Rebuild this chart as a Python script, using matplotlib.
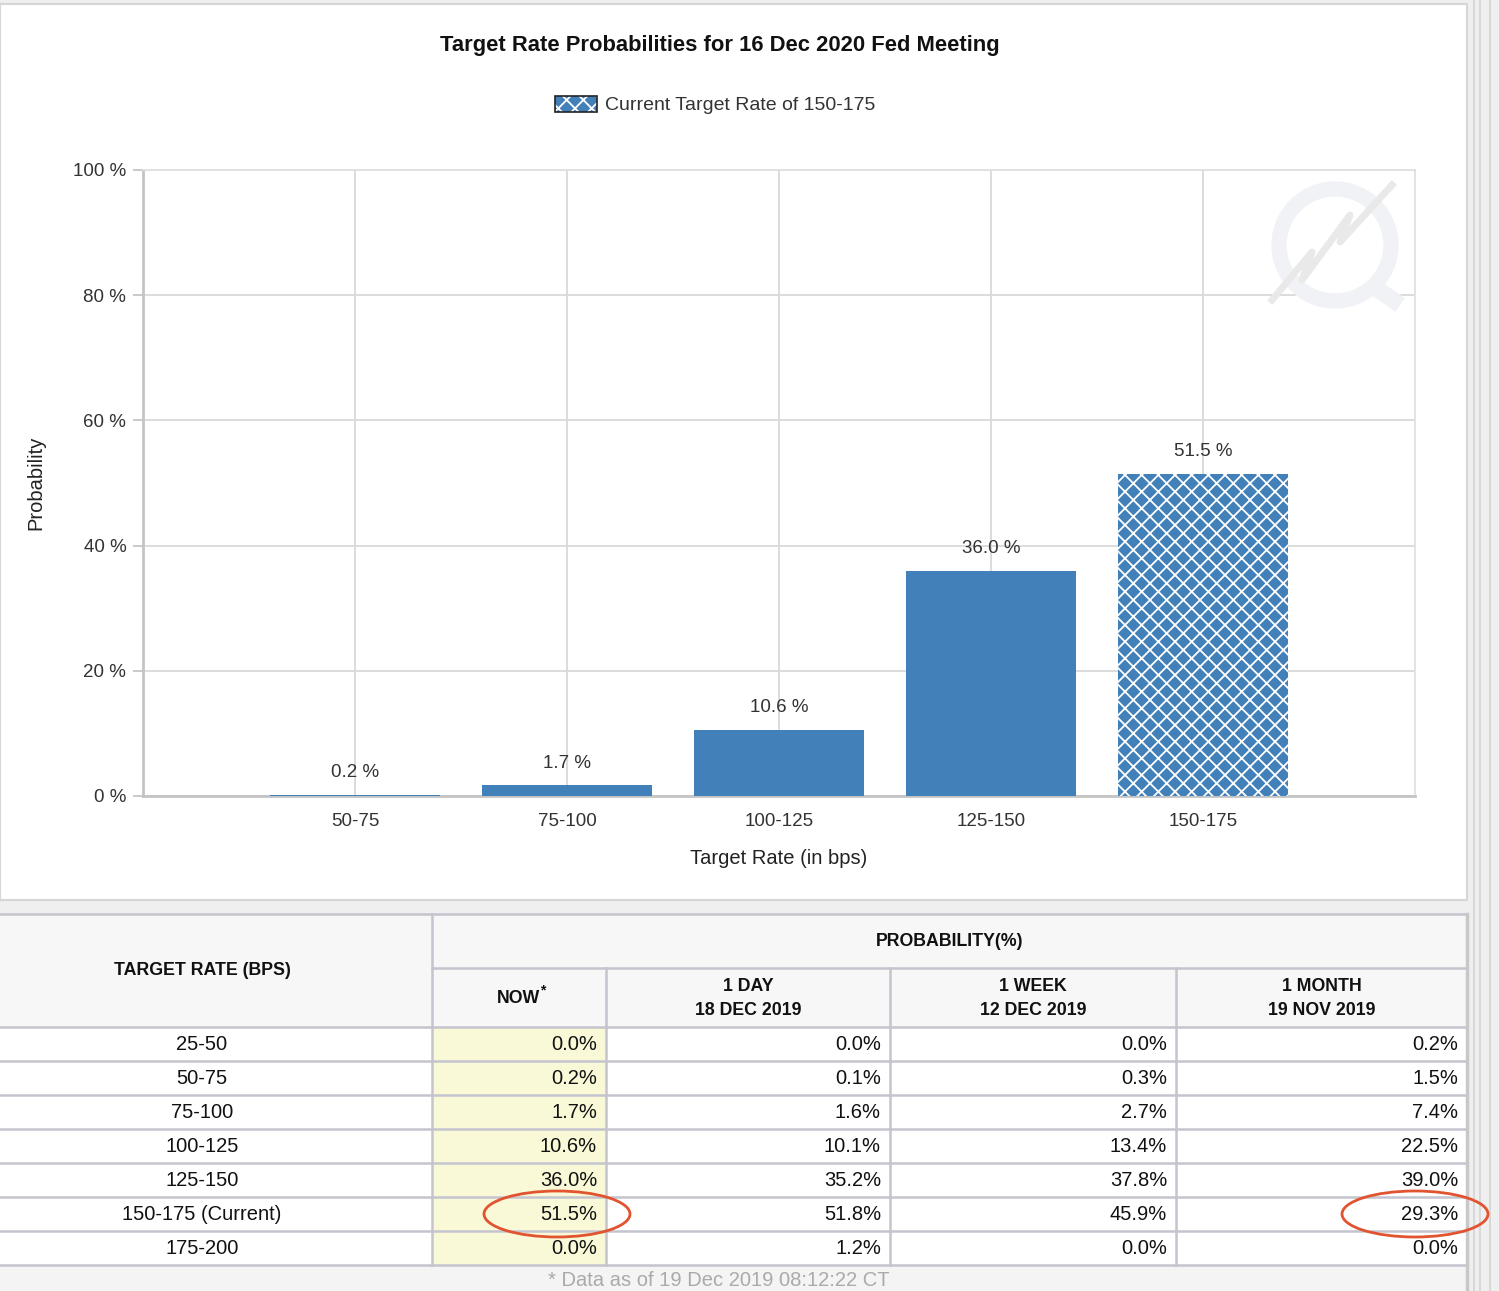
import matplotlib
matplotlib.use("Agg")
import matplotlib.pyplot as plt
from matplotlib.patches import Rectangle, Ellipse, Circle, Patch
from matplotlib.legend_handler import HandlerTuple

plt.rcParams['font.family'] = ['Liberation Sans', 'DejaVu Sans']
plt.rcParams['hatch.linewidth'] = 1.3

# ---- data ----
rates = ["50-75", "75-100", "100-125", "125-150", "150-175"]
probs = [0.2, 1.7, 10.6, 36.0, 51.5]
current = "150-175"

table_rates = ["25-50", "50-75", "75-100", "100-125", "125-150",
               "150-175 (Current)", "175-200"]
now = [0.0, 0.2, 1.7, 10.6, 36.0, 51.5, 0.0]
one_day = [0.0, 0.1, 1.6, 10.1, 35.2, 51.8, 1.2]
one_week = [0.0, 0.3, 2.7, 13.4, 37.8, 45.9, 0.0]
one_month = [0.2, 1.5, 7.4, 22.5, 39.0, 29.3, 0.0]
col_heads = ["NOW", "1 DAY\n18 DEC 2019", "1 WEEK\n12 DEC 2019", "1 MONTH\n19 NOV 2019"]

W, H = 1499, 1291
BLUE = "#4180b8"
GRID = "#d9d9d9"
LINE = "#c3c4ce"

fig = plt.figure(figsize=(W / 100, H / 100), dpi=100, facecolor="#efefef")

# background / page canvas in pixel coordinates
bg = fig.add_axes([0, 0, 1, 1])
bg.set_xlim(0, W)
bg.set_ylim(H, 0)
bg.axis("off")
bg.add_patch(Rectangle((0, 4), 1467, 896, facecolor="white", edgecolor="#d6d6d6", lw=1.5))
for x in (1474, 1480, 1490):
    bg.plot([x, x], [0, H], color="#d4d4d4", lw=1.2)

# ---- bar chart ----
ax = fig.add_axes([143 / W, 1 - 796 / H, (1415 - 143) / W, (796 - 170) / H])
ax.set_zorder(2)
xs = list(range(1, len(rates) + 1))
for x, r, p in zip(xs, rates, probs):
    if r == current:
        ax.bar(x, p, width=0.8, color=BLUE, edgecolor="white", hatch="xx", lw=0, zorder=3)
    else:
        ax.bar(x, p, width=0.8, color=BLUE, lw=0, zorder=3)
    ax.text(x, p + 2.2, f"{p:.1f} %", ha="center", va="bottom", fontsize=13.5, color="#333333")

ax.set_xlim(0, 6)
ax.set_ylim(0, 100)
ax.set_xticks(xs)
ax.set_xticklabels(rates, fontsize=13.5, color="#333333")
ax.set_yticks(range(0, 101, 20))
ax.set_yticklabels([f"{v} %" for v in range(0, 101, 20)], fontsize=13.5, color="#333333")
ax.tick_params(axis="x", length=0, pad=12)
ax.tick_params(axis="y", length=7, color="#c0c0c0", width=1.2, pad=5)
ax.grid(True, color=GRID, lw=1.3, zorder=0)
ax.set_axisbelow(True)
for s in ("top", "right"):
    ax.spines[s].set_color("#e0e0e0")
    ax.spines[s].set_linewidth(1.3)
for s in ("left", "bottom"):
    ax.spines[s].set_color("#c4c4c4")
    ax.spines[s].set_linewidth(2)
ax.set_xlabel("Target Rate (in bps)", fontsize=14.5, color="#222222", labelpad=14)
ax.set_ylabel("Probability", fontsize=14.5, color="#222222")
ax.yaxis.set_label_coords((45 - 143) / 1272, 0.5)

# faint watermark logo
ring = Circle((1335, 245), 56, transform=bg.transData, fill=False,
              edgecolor="#f0f2f5", lw=11, zorder=1)
ax.add_patch(ring)
ax.plot([1372, 1400], [285, 305], transform=bg.transData, color="#f0f2f5", lw=12,
        solid_capstyle="butt", zorder=1)
ax.plot([1272, 1312, 1302, 1350, 1340, 1392], [300, 252, 280, 215, 242, 185],
        transform=bg.transData, color="#e9e9e9", lw=5, zorder=1)

fig.text(720 / W, 1 - 46 / H, "Target Rate Probabilities for 16 Dec 2020 Fed Meeting",
         ha="center", va="center", fontsize=15.8, fontweight="bold", color="#111111")
h_hatch = Patch(facecolor=BLUE, edgecolor="white", hatch="xx", lw=0)
h_edge = Patch(facecolor="none", edgecolor="#222222", lw=1.2)
fig.legend([(h_hatch, h_edge)], ["Current Target Rate of " + current],
           handler_map={tuple: HandlerTuple(ndivide=1)},
           loc="center", bbox_to_anchor=(715 / W, 1 - 105 / H), frameon=False,
           fontsize=14, handlelength=2.2, handleheight=0.9, handletextpad=0.4,
           labelcolor="#333333")

# ---- table ----
cols = [0, 432, 606, 890, 1176, 1467]
top, mid, hbot, rh = 914, 968, 1027, 34
nrows = len(table_rates)
tbot = hbot + nrows * rh
bg.add_patch(Rectangle((0, top), 1467, hbot - top, facecolor="#f7f7f7", lw=0))
bg.add_patch(Rectangle((0, hbot), 1467, tbot - hbot, facecolor="white", lw=0))
bg.add_patch(Rectangle((cols[1], hbot), cols[2] - cols[1], tbot - hbot, facecolor="#f9f9d8", lw=0))
bg.add_patch(Rectangle((0, tbot), 1467, H - tbot, facecolor="#f4f4f4", lw=0))

lk = dict(color=LINE, lw=1.8)
bg.plot([0, 1467], [top, top], **lk)
bg.plot([cols[1], 1467], [mid, mid], **lk)
for i in range(nrows + 1):
    y = hbot + i * rh
    bg.plot([0, 1467], [y, y], **lk)
bg.plot([cols[1], cols[1]], [top, tbot], **lk)
for c in cols[2:5]:
    bg.plot([c, c], [mid, tbot], **lk)
bg.plot([1467, 1467], [top, H], color="#c8c8c8", lw=2.5)

hk = dict(fontsize=12.8, fontweight="bold", color="#111111", ha="center", va="center")
bg.text(202, (top + hbot) / 2, "TARGET RATE (BPS)", **hk)
bg.text((cols[1] + cols[5]) / 2, (top + mid) / 2, "PROBABILITY(%)", **hk)
for j, head in enumerate(col_heads):
    cx = (cols[j + 1] + cols[j + 2]) / 2
    bg.text(cx, (mid + hbot) / 2 + 1, head, linespacing=1.55, **hk)
bg.text(543, 990, "*", fontsize=10, fontweight="bold", color="#111111", ha="center", va="center")

for i, r in enumerate(table_rates):
    y = hbot + i * rh + rh / 2 + 1
    bg.text(202, y, r, fontsize=14.5, ha="center", va="center", color="#111111")
    for j, series in enumerate([now, one_day, one_week, one_month]):
        bg.text(cols[j + 2] - 9, y, f"{series[i]:.1f}%", fontsize=14.5,
                ha="right", va="center", color="#111111")

bg.text(719, 1281, "* Data as of 19 Dec 2019 08:12:22 CT", fontsize=14.5,
        ha="center", va="center", color="#aaaaaa")

# red highlight ellipses
for cx in (557, 1415):
    bg.add_patch(Ellipse((cx, 1214), 146, 46, fill=False, edgecolor="#e2532f", lw=2, zorder=5))

fig.savefig("out.png", dpi=100, facecolor=fig.get_facecolor())
